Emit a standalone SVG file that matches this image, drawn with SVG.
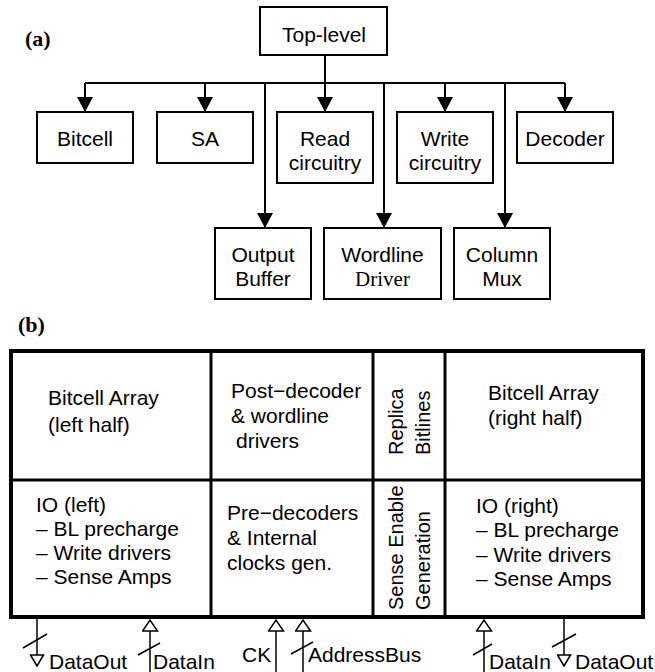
<svg xmlns="http://www.w3.org/2000/svg" width="655" height="672" viewBox="0 0 655 672">
<style>
  text { font-family: "Liberation Sans", Arial, sans-serif; font-size: 21px; fill: #000; }
  .serif { font-family: "Liberation Serif", "Times New Roman", serif; }
  .lbl { font-family: "Liberation Serif", "Times New Roman", serif; font-weight: bold; font-size: 22px; }
  .rot { font-size: 20px; }
  .box { fill: #fff; stroke: #000; stroke-width: 2; }
  .conn { fill: none; stroke: #000; stroke-width: 2; }
  .sig { fill: none; stroke: #000; stroke-width: 1.5; }
  .mid { text-anchor: middle; }
  .outer { fill: none; stroke: #000; stroke-width: 4; }
  .inner { fill: none; stroke: #000; stroke-width: 3; }
</style>
<defs>
  <marker id="arr" markerUnits="userSpaceOnUse" viewBox="0 0 15 16" markerWidth="15" markerHeight="16" refX="15" refY="8" orient="auto">
    <path d="M0,0 L15,8 L0,16 Z" fill="#000"/>
  </marker>
  <marker id="hollowIn" markerUnits="userSpaceOnUse" viewBox="-1 -1 14 17" markerWidth="14" markerHeight="17" refX="11" refY="7.5" orient="auto">
    <path d="M0,0 L11,7.5 L0,15 Z" fill="#fff" stroke="#000" stroke-width="1.5"/>
  </marker>
  <marker id="hollowOut" markerUnits="userSpaceOnUse" viewBox="-1 -1 14 15" markerWidth="14" markerHeight="15" refX="11" refY="6.5" orient="auto">
    <path d="M0,0 L11,6.5 L0,13 Z" fill="#fff" stroke="#000" stroke-width="1.5"/>
  </marker>
</defs>

<!-- Part (a) -->
<text class="lbl" x="25" y="46">(a)</text>

<g id="connectors">
  <path class="conn" d="M325,55 V83"/>
  <path class="conn" d="M85,83 H565"/>
  <path class="conn" d="M85,83 V112" marker-end="url(#arr)"/>
  <path class="conn" d="M205,83 V112" marker-end="url(#arr)"/>
  <path class="conn" d="M325,83 V112" marker-end="url(#arr)"/>
  <path class="conn" d="M445,83 V112" marker-end="url(#arr)"/>
  <path class="conn" d="M565,83 V112" marker-end="url(#arr)"/>
  <path class="conn" d="M265,83 V228" marker-end="url(#arr)"/>
  <path class="conn" d="M384,83 V228" marker-end="url(#arr)"/>
  <path class="conn" d="M505,83 V228" marker-end="url(#arr)"/>
</g>

<g id="top-level">
  <rect class="box" x="260" y="7" width="127" height="48"/>
  <text class="mid" x="324" y="42">Top-level</text>
</g>
<g id="bitcell">
  <rect class="box" x="37" y="112" width="96" height="51"/>
  <text class="mid" x="85" y="146">Bitcell</text>
</g>
<g id="sa">
  <rect class="box" x="157" y="112" width="96" height="51"/>
  <text class="mid" x="205" y="146">SA</text>
</g>
<g id="read-circuitry">
  <rect class="box" x="277" y="112" width="96" height="71"/>
  <text class="mid" x="325" y="146">Read</text>
  <text class="mid" x="325" y="170">circuitry</text>
</g>
<g id="write-circuitry">
  <rect class="box" x="397" y="112" width="96" height="71"/>
  <text class="mid" x="445" y="146">Write</text>
  <text class="mid" x="445" y="170">circuitry</text>
</g>
<g id="decoder">
  <rect class="box" x="517" y="112" width="96" height="51"/>
  <text class="mid" x="565" y="146">Decoder</text>
</g>
<g id="output-buffer">
  <rect class="box" x="215" y="228" width="96" height="71"/>
  <text class="mid" x="263" y="262">Output</text>
  <text class="mid" x="263" y="286">Buffer</text>
</g>
<g id="wordline-driver">
  <rect class="box" x="324" y="228" width="117" height="71"/>
  <text class="mid" x="382.5" y="262">Wordline</text>
  <text class="mid serif" x="382.5" y="286">Driver</text>
</g>
<g id="column-mux">
  <rect class="box" x="454" y="228" width="96" height="71"/>
  <text class="mid" x="502" y="262">Column</text>
  <text class="mid" x="502" y="286">Mux</text>
</g>

<!-- Part (b) -->
<text class="lbl" x="18" y="332">(b)</text>

<g id="floorplan">
  <rect class="outer" x="11" y="351" width="632" height="266"/>
  <path class="inner" d="M11,480 H643"/>
  <path class="inner" d="M211,351 V617"/>
  <path class="inner" d="M373,351 V617"/>
  <path class="inner" d="M445,351 V617"/>
</g>

<g id="bitcell-left">
  <text x="48" y="405">Bitcell Array</text>
  <text x="48" y="432">(left half)</text>
</g>
<g id="post-decoder">
  <text x="231" y="398">Post−decoder</text>
  <text x="231" y="423">&amp; wordline</text>
  <text x="236" y="448">drivers</text>
</g>
<g id="replica">
  <text class="rot" transform="translate(403,455) rotate(-90)">Replica</text>
  <text class="rot" transform="translate(430,455) rotate(-90)">Bitlines</text>
</g>
<g id="bitcell-right">
  <text x="488" y="400">Bitcell Array</text>
  <text x="488" y="425">(right half)</text>
</g>
<g id="io-left">
  <text x="36" y="512">IO (left)</text>
  <text x="36" y="536">– BL precharge</text>
  <text x="36" y="560">– Write drivers</text>
  <text x="36" y="584">– Sense Amps</text>
</g>
<g id="pre-decoders">
  <text x="227" y="520">Pre−decoders</text>
  <text x="227" y="545">&amp; Internal</text>
  <text x="227" y="570">clocks gen.</text>
</g>
<g id="sense-enable">
  <text class="rot" transform="translate(403,610) rotate(-90)">Sense Enable</text>
  <text class="rot" transform="translate(430,610) rotate(-90)">Generation</text>
</g>
<g id="io-right">
  <text x="476" y="513">IO (right)</text>
  <text x="476" y="537">– BL precharge</text>
  <text x="476" y="562">– Write drivers</text>
  <text x="476" y="586">– Sense Amps</text>
</g>

<g id="signals">
  <!-- left DataOut -->
  <path class="sig" d="M37,619 V666" marker-end="url(#hollowOut)"/>
  <path class="sig" d="M23,648 L47,634"/>
  <text x="49" y="669">DataOut</text>
  <!-- left DataIn -->
  <path class="sig" d="M150,672 V620" marker-end="url(#hollowIn)"/>
  <path class="sig" d="M138,655 L160,643"/>
  <text x="153" y="669">DataIn</text>
  <!-- CK -->
  <path class="sig" d="M276,672 V620" marker-end="url(#hollowIn)"/>
  <text x="242" y="662">CK</text>
  <!-- AddressBus -->
  <path class="sig" d="M303,672 V620" marker-end="url(#hollowIn)"/>
  <path class="sig" d="M291,654 L313,642"/>
  <text x="308" y="662">AddressBus</text>
  <!-- right DataIn -->
  <path class="sig" d="M484,672 V620" marker-end="url(#hollowIn)"/>
  <path class="sig" d="M473,655 L492,644"/>
  <text x="489" y="669">DataIn</text>
  <!-- right DataOut -->
  <path class="sig" d="M564,619 V666" marker-end="url(#hollowOut)"/>
  <path class="sig" d="M552,647 L576,634"/>
  <text x="575" y="669">DataOut</text>
</g>
</svg>
